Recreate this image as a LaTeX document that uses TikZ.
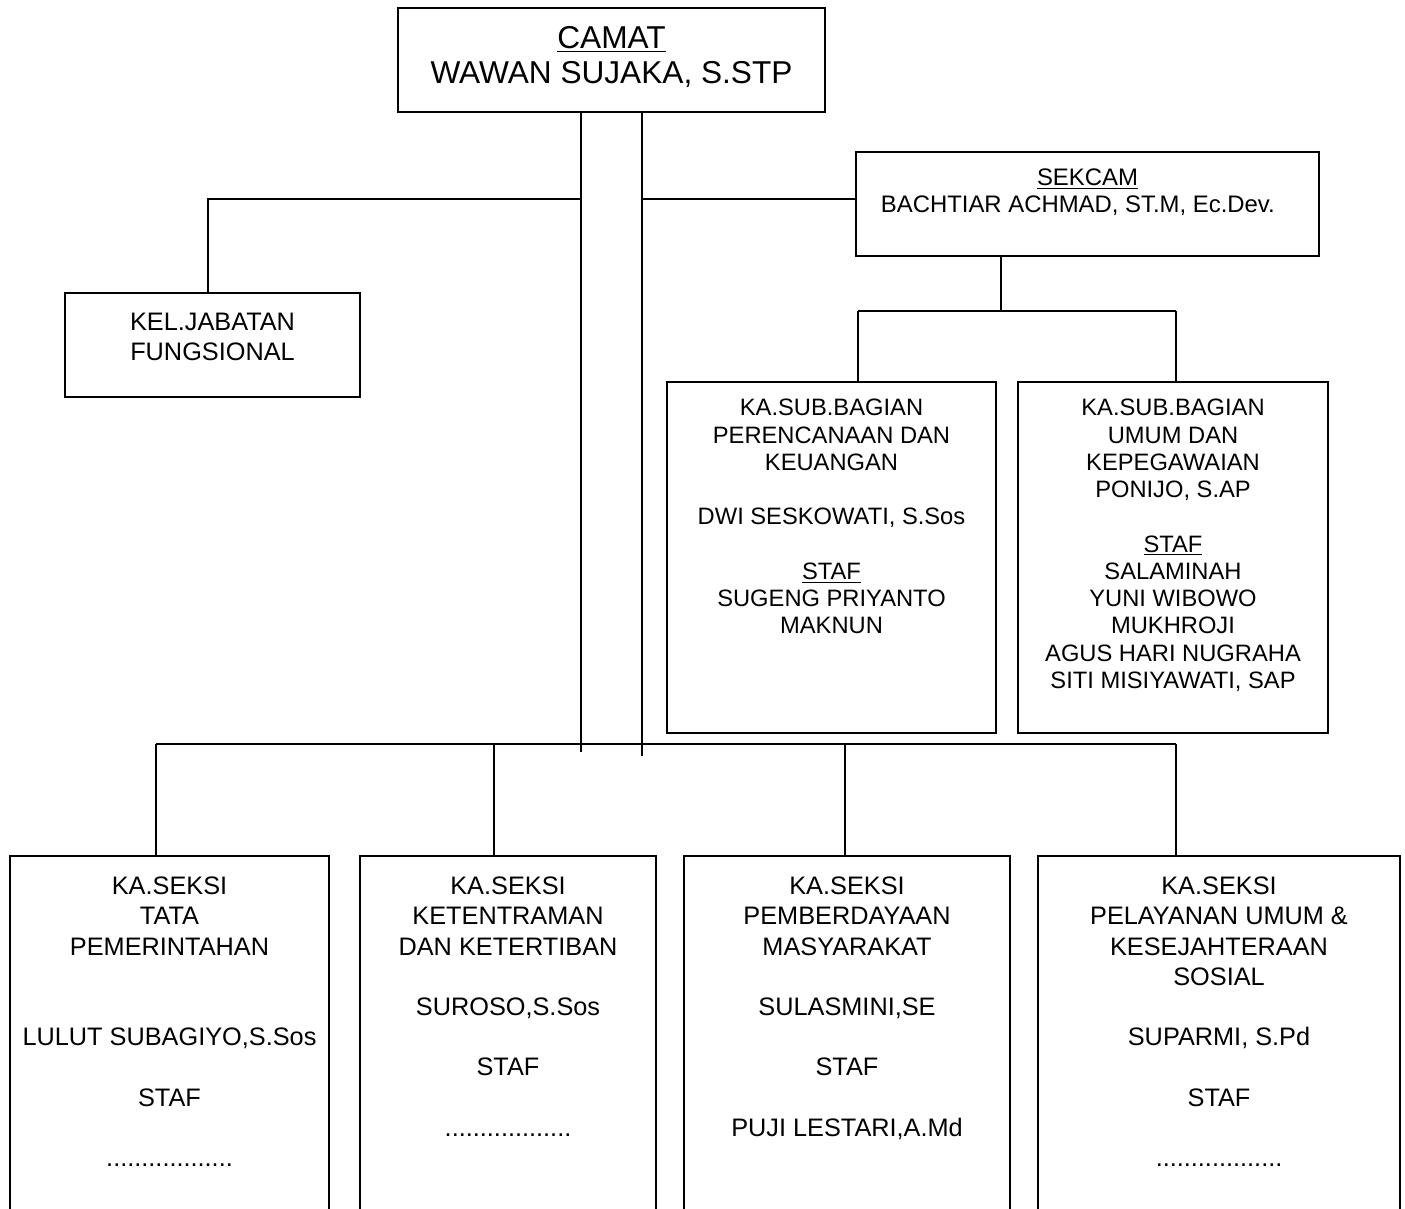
\documentclass[tikz,border=0pt]{standalone}
\usepackage{fontspec}
\setmainfont{Liberation Sans}
\usepackage{tikz}
\usetikzlibrary{positioning}
\newcommand{\skipln}{\\[\baselineskip]}

\begin{document}
\begin{tikzpicture}[
    x=0.02cm, y=-0.02cm, line width=1pt,
    box/.style 2 args={draw, inner sep=0pt, outer sep=0pt,
                minimum width=#1*0.02cm, minimum height=#2*0.02cm},
    txt/.style={inner sep=0pt, align=center},
    big/.style={txt, font=\fontsize{18pt}{20pt}\selectfont},
    mid/.style={txt, font=\fontsize{14.4pt}{17.2pt}\selectfont},
    sml/.style={txt, font=\fontsize{13.5pt}{15.5pt}\selectfont}
  ]
  \useasboundingbox (0,0) rectangle (1405,1209);
  \clip (0,0) rectangle (1405,1209);

  \node[box={427}{104}] (camat) at (611.5,60) {};
  \node[big, below=10pt of camat.north] (camat-t) {\underline{CAMAT}\\WAWAN SUJAKA, S.STP};

  \node[box={463}{104}] (sekcam) at (1087.5,204) {};
  \node[sml, font=\fontsize{13.6pt}{15.4pt}\selectfont, below=9.3pt of sekcam.north] (sekcam-t)
    {\underline{SEKCAM}\\\hspace*{-11pt}BACHTIAR ACHMAD, ST.M, Ec.Dev.};

  \node[box={295}{104}] (kel) at (212.5,345) {};
  \node[mid, below=10.8pt of kel.north] (kel-t) {KEL.JABATAN\\FUNGSIONAL};

  \node[box={329}{351}] (subpk) at (831.5,557.5) {};
  \node[sml, below=9.4pt of subpk.north] (subpk-t)
    {KA.SUB.BAGIAN\\PERENCANAAN DAN\\KEUANGAN\skipln DWI SESKOWATI, S.Sos\skipln
     \underline{STAF}\\SUGENG PRIYANTO\\MAKNUN};

  \node[box={310}{351}] (subum) at (1173,557.5) {};
  \node[sml, below=9.4pt of subum.north] (subum-t)
    {KA.SUB.BAGIAN\\UMUM DAN\\KEPEGAWAIAN\\PONIJO, S.AP\skipln
     \underline{STAF}\\SALAMINAH\\YUNI WIBOWO\\MUKHROJI\\AGUS HARI NUGRAHA\\SITI MISIYAWATI, SAP};

  \node[box={319}{450}, anchor=north] (sktp) at (169.5,856) {};
  \node[mid, below=11.4pt of sktp.north] (sktp-t)
    {KA.SEKSI\\TATA\\PEMERINTAHAN\\[2\baselineskip]LULUT SUBAGIYO,S.Sos\skipln
     STAF\skipln ..................};

  \node[box={296}{450}, anchor=north] (skkt) at (508,856) {};
  \node[mid, below=11.4pt of skkt.north] (skkt-t)
    {KA.SEKSI\\KETENTRAMAN\\DAN KETERTIBAN\skipln SUROSO,S.Sos\skipln
     STAF\skipln ..................};

  \node[box={326}{450}, anchor=north] (skpm) at (847,856) {};
  \node[mid, below=11.4pt of skpm.north] (skpm-t)
    {KA.SEKSI\\PEMBERDAYAAN\\MASYARAKAT\skipln SULASMINI,SE\skipln
     STAF\skipln PUJI LESTARI,A.Md};

  \node[box={362}{450}, anchor=north] (skpu) at (1219,856) {};
  \node[mid, below=11.4pt of skpu.north] (skpu-t)
    {KA.SEKSI\\PELAYANAN UMUM \&\\KESEJAHTERAAN\\SOSIAL\skipln SUPARMI, S.Pd\skipln
     STAF\skipln ..................};

  \coordinate (tl) at (581,752);
  \coordinate (tr) at (642,756);
  \coordinate (lbr) at (581,199);
  \coordinate (rbr) at (642,199);
  \coordinate (sj) at (1001,311);
  \coordinate (dpk) at (858,311);
  \coordinate (dum) at (1176,311);
  \coordinate (b1) at (156,744);
  \coordinate (b2) at (494,744);
  \coordinate (b3) at (845,744);
  \coordinate (b4) at (1176,744);

  \draw (camat.south -| tl) -- (tl);
  \draw (camat.south -| tr) -- (tr);
  \draw (lbr) -| (kel.north -| 208,0);
  \draw (rbr) -- (sekcam.west |- rbr);
  \draw (sekcam.south -| sj) -- (sj);
  \draw (dpk) -- (dum);
  \draw (dpk) -- (dpk |- subpk.north);
  \draw (dum) -- (dum |- subum.north);
  \draw (b1) -- (b4);
  \draw (b1) -- (b1 |- sktp.north);
  \draw (b2) -- (b2 |- skkt.north);
  \draw (b3) -- (b3 |- skpm.north);
  \draw (b4) -- (b4 |- skpu.north);
\end{tikzpicture}
\end{document}
